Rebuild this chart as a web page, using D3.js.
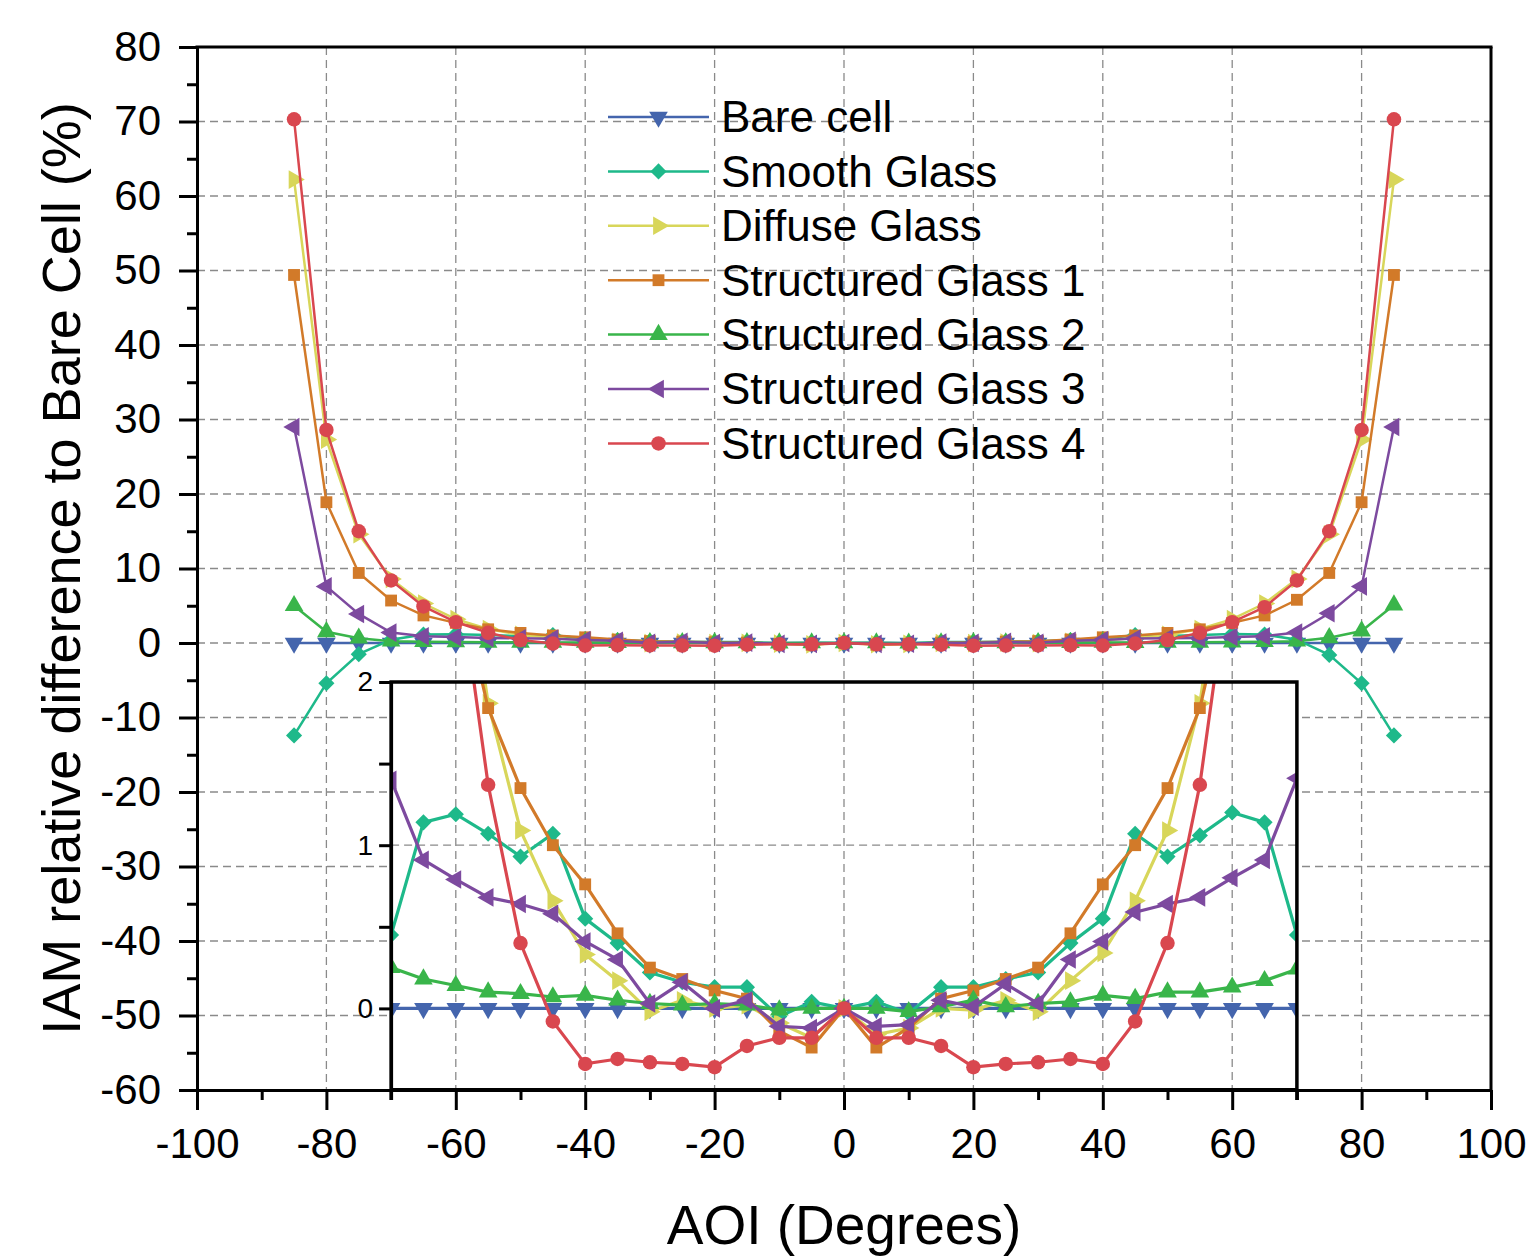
<!DOCTYPE html>
<html>
<head>
<meta charset="utf-8">
<script src="https://cdn.jsdelivr.net/npm/d3@7"></script>
<style>
  body { margin: 0; background: #fff; }
  text { font-family: "Liberation Sans", Arial, sans-serif; fill: #000; }
</style>
</head>
<body>
<div id="chart"></div>
<script>
'use strict'

// angle of incidence, degrees
const aoi = [-85, -80, -75, -70, -65, -60, -55, -50, -45, -40, -35, -30, -25, -20, -15, -10, -5,
  0, 5, 10, 15, 20, 25, 30, 35, 40, 45, 50, 55, 60, 65, 70, 75, 80, 85];

const bareCell = [0, 0, 0, 0, 0, 0, 0, 0, 0, 0, 0, 0, 0, 0, 0, 0, 0,
  0, 0, 0, 0, 0, 0, 0, 0, 0, 0, 0, 0, 0, 0, 0, 0, 0, 0];
const smoothGlass = [-12.4, -5.4, -1.5, 0.45, 1.14, 1.19, 1.07, 0.93, 1.07, 0.55, 0.40, 0.22, 0.16, 0.13, 0.13, -0.05, 0.04,
  0, 0.04, -0.03, 0.13, 0.13, 0.18, 0.22, 0.40, 0.55, 1.07, 0.93, 1.06, 1.20, 1.14, 0.45, -1.6, -5.4, -12.4];
const diffuseGlass = [62.2, 27.3, 14.6, 8.6, 5.3, 3.2, 1.87, 1.09, 0.66, 0.33, 0.17, -0.02, 0.05, 0.0, 0.02, -0.09, -0.18,
  0, -0.16, -0.12, 0.0, -0.01, 0.05, -0.02, 0.17, 0.34, 0.66, 1.09, 1.87, 3.2, 5.3, 8.6, 14.6, 27.3, 62.2];
const structured1 = [49.4, 18.9, 9.4, 5.7, 3.7, 2.7, 1.84, 1.35, 1.0, 0.76, 0.46, 0.25, 0.18, 0.11, 0.06, -0.14, -0.24,
  0, -0.24, -0.12, 0.06, 0.11, 0.18, 0.25, 0.46, 0.76, 1.0, 1.35, 1.84, 2.7, 3.7, 5.8, 9.4, 18.9, 49.4];
const structured2 = [5.0, 1.5, 0.65, 0.25, 0.18, 0.14, 0.10, 0.09, 0.07, 0.08, 0.05, 0.03, 0.02, 0.03, 0.02, -0.01, 0.0,
  0, 0.0, -0.02, 0.01, 0.05, 0.01, 0.03, 0.04, 0.08, 0.06, 0.10, 0.10, 0.13, 0.17, 0.24, 0.7, 1.6, 5.1];
const structured3 = [29.0, 7.6, 3.9, 1.40, 0.91, 0.79, 0.68, 0.64, 0.58, 0.41, 0.30, 0.03, 0.16, 0.0, 0.05, -0.11, -0.12,
  0, -0.11, -0.10, 0.05, 0.01, 0.15, 0.03, 0.30, 0.41, 0.59, 0.64, 0.68, 0.80, 0.91, 1.41, 4.0, 7.6, 29.0];
const structured4 = [70.3, 28.6, 15.0, 8.4, 4.9, 2.8, 1.37, 0.40, -0.08, -0.34, -0.31, -0.33, -0.34, -0.36, -0.23, -0.18, -0.18,
  0, -0.18, -0.18, -0.23, -0.36, -0.34, -0.33, -0.31, -0.34, -0.08, 0.40, 1.37, 2.8, 4.8, 8.4, 15.0, 28.6, 70.3];

const seriesNames = ['Bare cell', 'Smooth Glass', 'Diffuse Glass', 'Structured Glass 1',
  'Structured Glass 2', 'Structured Glass 3', 'Structured Glass 4'];
const seriesValues = [bareCell, smoothGlass, diffuseGlass, structured1, structured2, structured3, structured4];
const seriesColors = ['#4465ad', '#1eb98a', '#d8d65a', '#d27a29', '#39b54a', '#7d4a9f', '#d9474f'];
const seriesShapes = ['down', 'diamond', 'right', 'square', 'up', 'left', 'circle'];

const xTicks = [-100, -80, -60, -40, -20, 0, 20, 40, 60, 80, 100];
const yTicks = [-60, -50, -40, -30, -20, -10, 0, 10, 20, 30, 40, 50, 60, 70, 80];
const insetTicks = [0, 1, 2];

const width = 1526;
const height = 1257;
const plotLeft = 197, plotRight = 1491, plotTop = 47, plotBottom = 1090;
const insetLeft = -70, insetRight = 70, insetTop = 682;

const series = seriesNames.map((name, i) => ({
  name: name,
  color: seriesColors[i],
  shape: seriesShapes[i],
  points: aoi.map((a, j) => ({ x: a, y: seriesValues[i][j] }))
}));

const x = d3.scaleLinear().domain([-100, 100]).range([plotLeft, plotRight]);
const y = d3.scaleLinear().domain([-60, 80]).range([plotBottom, plotTop]);
const yInset = d3.scaleLinear().domain([-0.5, 2]).range([plotBottom, insetTop]);

const svg = d3.select('#chart')
  .append('svg')
    .attr('width', width)
    .attr('height', height);

// marker shapes: triangles get rotated, diamond is a square turned 45deg
const shapeType = { down: d3.symbolTriangle, up: d3.symbolTriangle, left: d3.symbolTriangle,
  right: d3.symbolTriangle, square: d3.symbolSquare, diamond: d3.symbolSquare, circle: d3.symbolCircle };
const shapeRot = { down: 180, up: 0, left: -90, right: 90, square: 0, diamond: 45, circle: 0 };
const shapeSize = { down: 150, up: 150, left: 150, right: 150, square: 140, diamond: 130, circle: 165 };
const markerPath = (shape) => d3.symbol().type(shapeType[shape]).size(shapeSize[shape])();

const gridStyle = (sel) => sel
  .attr('stroke', '#8a8a8a')
  .attr('stroke-width', 1.3)
  .attr('stroke-dasharray', '8,5');

// main grid
svg.append('g').selectAll('line')
  .data(xTicks.slice(1, -1))
  .enter().append('line')
  .attr('x1', d => x(d)).attr('x2', d => x(d))
  .attr('y1', plotTop).attr('y2', plotBottom)
  .call(gridStyle);

svg.append('g').selectAll('line')
  .data(yTicks.slice(1, -1))
  .enter().append('line')
  .attr('x1', plotLeft).attr('x2', plotRight)
  .attr('y1', d => y(d)).attr('y2', d => y(d))
  .call(gridStyle);

// main series
const line = d3.line().x(d => x(d.x)).y(d => y(d.y));

series.forEach((s) => {
  const g = svg.append('g');
  g.append('path')
    .attr('d', line(s.points))
    .attr('fill', 'none')
    .attr('stroke', s.color)
    .attr('stroke-width', 2.5);
  g.selectAll('path.m')
    .data(s.points)
    .enter().append('path')
    .attr('class', 'm')
    .attr('d', markerPath(s.shape))
    .attr('fill', s.color)
    .attr('transform', d => 'translate(' + x(d.x) + ',' + y(d.y) + ') rotate(' + shapeRot[s.shape] + ')');
});

// main axes
const xAxis = svg.append('g')
  .attr('transform', 'translate(0,' + plotBottom + ')')
  .call(d3.axisBottom(x).tickValues(xTicks).tickSize(20).tickSizeOuter(0).tickPadding(18)
    .tickFormat(d => String(d)));

const xMinor = svg.append('g')
  .attr('transform', 'translate(0,' + plotBottom + ')')
  .call(d3.axisBottom(x).tickValues(d3.range(-90, 100, 20)).tickSize(10).tickSizeOuter(0)
    .tickFormat(''));

const yAxis = svg.append('g')
  .attr('transform', 'translate(' + plotLeft + ',0)')
  .call(d3.axisLeft(y).tickValues(yTicks).tickSize(18).tickSizeOuter(0).tickPadding(18)
    .tickFormat(d => String(d)));

const yMinor = svg.append('g')
  .attr('transform', 'translate(' + plotLeft + ',0)')
  .call(d3.axisLeft(y).tickValues(d3.range(-55, 80, 10)).tickSize(10).tickSizeOuter(0)
    .tickFormat(''));

[xAxis, xMinor, yAxis, yMinor].forEach((ax) => {
  ax.selectAll('.domain').attr('stroke', '#000').attr('stroke-width', 3);
  ax.selectAll('.tick line').attr('stroke', '#000').attr('stroke-width', 3);
  ax.selectAll('.tick text').style('font-size', '42px')
    .style('font-family', '"Liberation Sans", Arial, sans-serif');
});

// top and right frame
svg.append('line')
  .attr('x1', plotLeft - 1.5).attr('x2', plotRight + 1.5).attr('y1', plotTop).attr('y2', plotTop)
  .attr('stroke', '#000').attr('stroke-width', 3);
svg.append('line')
  .attr('x1', plotRight).attr('x2', plotRight).attr('y1', plotTop).attr('y2', plotBottom)
  .attr('stroke', '#000').attr('stroke-width', 3);

// axis titles
svg.append('text')
  .attr('x', (plotLeft + plotRight) / 2)
  .attr('y', 1244)
  .attr('text-anchor', 'middle')
  .style('font-size', '55px')
  .text('AOI (Degrees)');

svg.append('text')
  .attr('transform', 'translate(80,' + ((plotTop + plotBottom) / 2) + ') rotate(-90)')
  .attr('text-anchor', 'middle')
  .style('font-size', '54px')
  .text('IAM relative difference to Bare Cell (%)');

// legend
const legend = svg.append('g');
const legendRowY = (i) => 117 + i * 54.4;

series.forEach((s, i) => {
  const ly = legendRowY(i);
  legend.append('line')
    .attr('x1', 608).attr('x2', 709)
    .attr('y1', ly).attr('y2', ly)
    .attr('stroke', s.color)
    .attr('stroke-width', 2.5);
  legend.append('path')
    .attr('d', markerPath(s.shape))
    .attr('fill', s.color)
    .attr('transform', 'translate(658.5,' + ly + ') rotate(' + shapeRot[s.shape] + ')');
  legend.append('text')
    .attr('x', 721)
    .attr('y', ly)
    .attr('dy', '0.35em')
    .style('font-size', '44px')
    .text(s.name);
});

// inset: zoom on -0.5..2 for the -70..70 range
const inset = svg.append('g');
const insetX0 = x(insetLeft), insetX1 = x(insetRight);

svg.append('clipPath')
  .attr('id', 'insetClip')
  .append('rect')
    .attr('x', insetX0).attr('y', insetTop)
    .attr('width', insetX1 - insetX0).attr('height', plotBottom - insetTop);

inset.append('rect')
  .attr('x', insetX0).attr('y', insetTop)
  .attr('width', insetX1 - insetX0).attr('height', plotBottom - insetTop)
  .attr('fill', '#fff');

inset.append('g').selectAll('line')
  .data(d3.range(-60, 61, 20))
  .enter().append('line')
  .attr('x1', d => x(d)).attr('x2', d => x(d))
  .attr('y1', insetTop).attr('y2', plotBottom)
  .call(gridStyle);

inset.append('line')
  .attr('x1', insetX0).attr('x2', insetX1)
  .attr('y1', yInset(1)).attr('y2', yInset(1))
  .call(gridStyle);

const insetLine = d3.line().x(d => x(d.x)).y(d => yInset(d.y));
const insetPlot = inset.append('g').attr('clip-path', 'url(#insetClip)');

series.forEach((s) => {
  const g = insetPlot.append('g');
  g.append('path')
    .attr('d', insetLine(s.points))
    .attr('fill', 'none')
    .attr('stroke', s.color)
    .attr('stroke-width', 3.2);
  g.selectAll('path.m')
    .data(s.points)
    .enter().append('path')
    .attr('class', 'm')
    .attr('d', markerPath(s.shape))
    .attr('fill', s.color)
    .attr('transform', d => 'translate(' + x(d.x) + ',' + yInset(d.y) + ') rotate(' + shapeRot[s.shape] + ')');
});

const insetAxis = inset.append('g')
  .attr('transform', 'translate(' + insetX0 + ',0)')
  .call(d3.axisLeft(yInset).tickValues(d3.range(-0.5, 2.01, 0.5)).tickSize(12).tickSizeOuter(0)
    .tickPadding(6).tickFormat(d => insetTicks.includes(d) ? String(d) : ''));

insetAxis.selectAll('.domain').attr('stroke', '#000').attr('stroke-width', 3);
insetAxis.selectAll('.tick line').attr('stroke', '#000').attr('stroke-width', 3);
insetAxis.selectAll('.tick text').style('font-size', '28px')
  .style('font-family', '"Liberation Sans", Arial, sans-serif');

// inset frame, sides run a little below the main axis
inset.append('path')
  .attr('d', 'M' + insetX0 + ',' + (plotBottom + 10) + 'V' + insetTop + 'H' + insetX1 + 'V' + (plotBottom + 10))
  .attr('fill', 'none')
  .attr('stroke', '#000')
  .attr('stroke-width', 3.5);
inset.append('line')
  .attr('x1', insetX0).attr('x2', insetX1)
  .attr('y1', plotBottom).attr('y2', plotBottom)
  .attr('stroke', '#000')
  .attr('stroke-width', 4);
</script>
</body>
</html>
